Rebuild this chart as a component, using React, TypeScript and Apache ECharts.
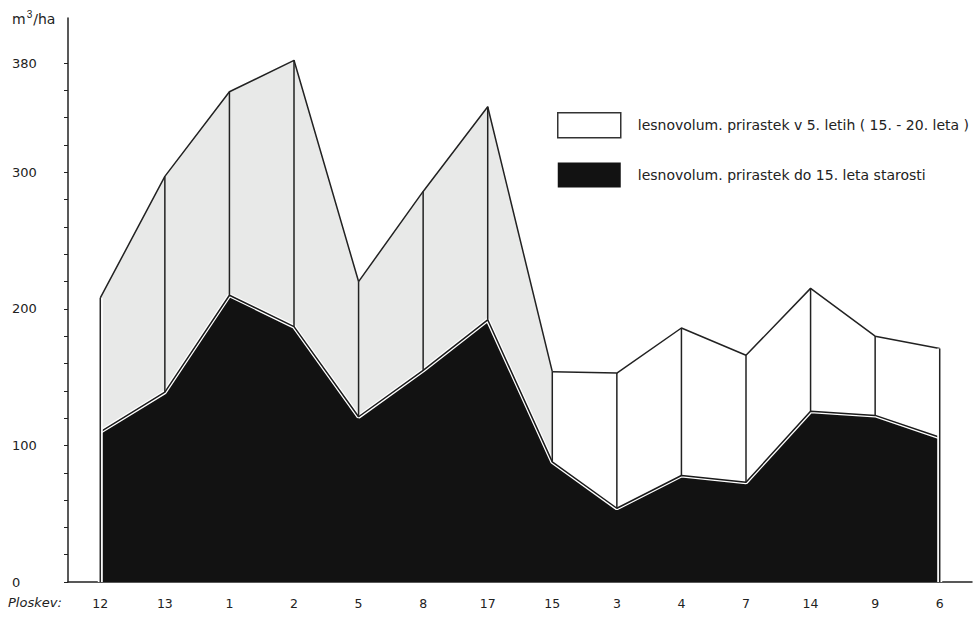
import { useEffect, useRef } from 'react';
import * as echarts from 'echarts';

// Plot numbers ("Ploskev") in the order shown on the x axis
const categories = ['12', '13', '1', '2', '5', '8', '17', '15', '3', '4', '7', '14', '9', '6'];
// m3/ha volume increment up to age 15 (black)
const do15 = [110, 139, 210, 187, 121, 155, 192, 88, 54, 78, 73, 125, 122, 106];
// m3/ha volume increment in the 5 years (age 15 - 20) (white, stacked on top)
const v5letih = [98, 158, 149, 195, 99, 131, 156, 66, 99, 108, 93, 90, 58, 65];
// y axis ticks and labels
const yTickValues = [0, 20, 40, 60, 80, 100, 120, 140, 160, 180, 200, 220, 240, 260, 280, 300, 320, 340, 360, 380];
const yLabelValues = [0, 100, 200, 300, 380];
// index of the last plot in the shaded (grey print) part
const greyEndIndex = 7;

const NAME_TOP = 'lesnovolum. prirastek v 5. letih ( 15. - 20. leta )';
const NAME_BOTTOM = 'lesnovolum. prirastek do 15. leta starosti';
const FONT = 'DejaVu Sans';
const INK = '#222';

export default function App() {
  const ref = useRef<HTMLDivElement>(null);

  useEffect(() => {
    if (!ref.current) return;
    const chart = echarts.init(ref.current, undefined, { renderer: 'svg' });

    const totals = do15.map((b, i) => b + v5letih[i]);
    const greyData = totals.map((t, i) => (i <= greyEndIndex ? t : '-'));
    const whiteData = totals.map((t, i) => (i >= greyEndIndex ? t : '-'));
    const last = categories.length - 1;
    const verticals = categories.map((_, i) => [
      i,
      i === 0 || i === last ? 0 : do15[i],
      totals[i],
      i === 0 || i === last ? 1 : 0,
    ]);

    chart.setOption({
      animation: false,
      backgroundColor: '#fff',
      grid: { left: 68, right: 4, top: 18, bottom: 42 },
      xAxis: {
        type: 'category',
        data: categories,
        boundaryGap: true,
        axisLine: { show: true, lineStyle: { color: INK, width: 1.5 } },
        axisTick: { show: false },
        axisLabel: { margin: 15, fontFamily: FONT, fontSize: 12.5, color: INK },
        splitLine: { show: false },
      },
      yAxis: {
        type: 'value',
        min: 0,
        max: 413,
        axisLine: { show: true, lineStyle: { color: INK, width: 1.5 } },
        axisTick: { show: true, length: 4, customValues: yTickValues, lineStyle: { color: INK, width: 1 } },
        axisLabel: {
          customValues: yLabelValues,
          align: 'left',
          margin: 56,
          fontFamily: FONT,
          fontSize: 13,
          color: INK,
        },
        splitLine: { show: false },
      },
      legend: {
        orient: 'vertical',
        left: 557,
        top: 112,
        padding: 0,
        itemWidth: 63,
        itemHeight: 25,
        itemGap: 24,
        icon: 'rect',
        selectedMode: false,
        data: [
          { name: NAME_TOP, itemStyle: { color: '#fff', borderColor: '#333', borderWidth: 1.5 } },
          { name: NAME_BOTTOM, itemStyle: { color: '#121212', borderWidth: 0 } },
        ],
        textStyle: { fontFamily: FONT, fontSize: 14, color: INK, padding: [0, 0, 0, 12] },
      },
      graphic: [
        {
          type: 'text',
          left: 12,
          top: 9,
          style: {
            text: 'm{sup|3}/ha',
            fontFamily: FONT,
            fontSize: 14,
            fill: INK,
            rich: { sup: { fontSize: 10, verticalAlign: 'top', padding: [0, 1, 9, 1], fill: INK } },
          },
        },
        {
          type: 'text',
          left: 8,
          top: 596,
          style: { text: 'Ploskev:', fontFamily: FONT, fontSize: 13, fontStyle: 'italic', fill: INK },
        },
      ],
      series: [
        {
          name: NAME_TOP,
          type: 'line',
          data: greyData,
          symbol: 'none',
          lineStyle: { color: INK, width: 1.5 },
          itemStyle: { color: '#fff' },
          areaStyle: { color: '#e8e9e8', opacity: 1 },
          z: 2,
        },
        {
          name: NAME_TOP,
          type: 'line',
          data: whiteData,
          symbol: 'none',
          lineStyle: { color: INK, width: 1.5 },
          itemStyle: { color: '#fff' },
          areaStyle: { color: '#fff', opacity: 1 },
          z: 2,
        },
        {
          name: NAME_BOTTOM,
          type: 'line',
          data: do15,
          symbol: 'none',
          lineStyle: { color: '#fff', width: 4 },
          itemStyle: { color: '#121212' },
          areaStyle: { color: '#121212', opacity: 1 },
          z: 3,
        },
        {
          name: 'edge',
          type: 'line',
          data: do15,
          symbol: 'none',
          lineStyle: { color: '#1a1a1a', width: 1.5 },
          z: 4,
        },
        {
          name: 'verticals',
          type: 'custom',
          data: verticals,
          z: 5,
          renderItem: (_params: any, api: any) => {
            const i = api.value(0);
            const lo = api.coord([i, api.value(1)]);
            const hi = api.coord([i, api.value(2)]);
            const edge = api.value(3) === 1;
            const children: any[] = [];
            if (edge) {
              children.push({
                type: 'line',
                shape: { x1: lo[0], y1: lo[1], x2: hi[0], y2: hi[1] },
                style: { stroke: '#fff', lineWidth: 5 },
              });
            }
            children.push({
              type: 'line',
              shape: { x1: lo[0], y1: lo[1], x2: hi[0], y2: hi[1] },
              style: { stroke: INK, lineWidth: 1.5 },
            });
            return { type: 'group', children };
          },
        },
      ],
    });

    return () => chart.dispose();
  }, []);

  return (
    <div
      ref={ref}
      style={{ position: 'absolute', left: 0, top: 0, width: 976, height: 624, background: '#fff' }}
    />
  );
}
